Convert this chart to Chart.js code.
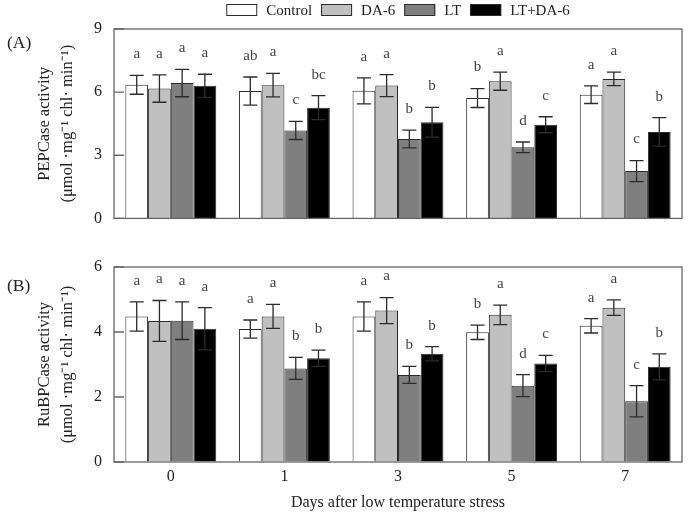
<!DOCTYPE html>
<html>
<head>
<meta charset="utf-8">
<script src="https://cdn.jsdelivr.net/npm/chart.js@4/dist/chart.umd.min.js"></script>
<style>
  html, body { margin: 0; padding: 0; background: #fff; }
  #wrap { position: relative; width: 689px; height: 512px; overflow: hidden; }
  #top { position: absolute; left: 0; top: 0; }
  #bot { position: absolute; left: 0; top: 240px; }
</style>
</head>
<body>
<div id="wrap">
  <canvas id="top" width="689" height="240"></canvas>
  <canvas id="bot" width="689" height="272"></canvas>
</div>
<script>
// ---- data ----
const categories = ['0', '1', '3', '5', '7'];
const seriesNames = ['Control', 'DA-6', 'LT', 'LT+DA-6'];

// Panel A: PEPCase activity
const pepControl    = [6.35, 6.05, 6.06, 5.72, 5.88];
const pepControlErr = [0.45, 0.67, 0.62, 0.45, 0.42];
const pepDA6        = [6.17, 6.33, 6.31, 6.52, 6.63];
const pepDA6Err     = [0.65, 0.56, 0.52, 0.43, 0.32];
const pepLT         = [6.43, 4.18, 3.77, 3.38, 2.25];
const pepLTErr      = [0.65, 0.43, 0.42, 0.25, 0.50];
const pepLTDA6      = [6.30, 5.26, 4.57, 4.45, 4.11];
const pepLTDA6Err   = [0.55, 0.57, 0.71, 0.38, 0.68];
const pepLettersControl = ['a', 'ab', 'a', 'b', 'a'];
const pepLettersDA6     = ['a', 'a', 'a', 'a', 'a'];
const pepLettersLT      = ['a', 'c', 'b', 'd', 'c'];
const pepLettersLTDA6   = ['a', 'bc', 'b', 'c', 'b'];
const pepTicks = [0, 3, 6, 9];

// Panel B: RuBPCase activity
const rubControl    = [4.48, 4.09, 4.48, 3.99, 4.19];
const rubControlErr = [0.45, 0.28, 0.45, 0.22, 0.22];
const rubDA6        = [4.34, 4.48, 4.66, 4.53, 4.75];
const rubDA6Err     = [0.63, 0.37, 0.40, 0.30, 0.24];
const rubLT         = [4.35, 2.88, 2.68, 2.35, 1.87];
const rubLTErr      = [0.58, 0.34, 0.26, 0.34, 0.48];
const rubLTDA6      = [4.10, 3.19, 3.33, 3.03, 2.93];
const rubLTDA6Err   = [0.65, 0.25, 0.22, 0.25, 0.40];
const rubLettersControl = ['a', 'a', 'a', 'b', 'a'];
const rubLettersDA6     = ['a', 'a', 'a', 'a', 'a'];
const rubLettersLT      = ['a', 'b', 'b', 'd', 'c'];
const rubLettersLTDA6   = ['a', 'b', 'b', 'c', 'b'];
const rubTicks = [0, 2, 4, 6];

// ---- styling ----
const FONT = "'Liberation Serif', 'Times New Roman', serif";
const fills = ['#ffffff', '#c0c0c0', '#7f7f7f', '#000000'];
const EDGE = '#2b2b2b';
const FRAME = '#666666';
const TEXT = '#222222';

function makeDatasets(vals, errs, letters) {
  return vals.map((v, i) => ({
    label: seriesNames[i],
    data: v,
    errors: errs[i],
    letters: letters[i],
    backgroundColor: fills[i],
    borderColor: EDGE,
    borderWidth: 1,
    categoryPercentage: 0.8,
    barPercentage: 1.0
  }));
}

const panelPlugin = {
  id: 'panel',
  afterDatasetsDraw(chart, args, opts) {
    const ctx = chart.ctx;
    const y = chart.scales.y;
    const a = chart.chartArea;
    ctx.save();
    // error bars and letters
    chart.data.datasets.forEach((ds, di) => {
      const meta = chart.getDatasetMeta(di);
      meta.data.forEach((el, j) => {
        const v = ds.data[j], e = ds.errors[j];
        const yt = y.getPixelForValue(v + e);
        const yb = y.getPixelForValue(v - e);
        ctx.strokeStyle = '#2b2b2b';
        ctx.lineWidth = 1.3;
        ctx.beginPath();
        ctx.moveTo(el.x, yt); ctx.lineTo(el.x, yb);
        ctx.moveTo(el.x - 7, yt); ctx.lineTo(el.x + 7, yt);
        ctx.moveTo(el.x - 7, yb); ctx.lineTo(el.x + 7, yb);
        ctx.stroke();
        ctx.fillStyle = '#444';
        ctx.font = '15px ' + FONT;
        ctx.textAlign = 'center';
        ctx.textBaseline = 'middle';
        ctx.fillText(ds.letters[j], el.x, yt - 21);
      });
    });
    // frame
    ctx.strokeStyle = FRAME;
    ctx.lineWidth = 1.3;
    ctx.strokeRect(a.left, a.top, a.right - a.left, a.bottom - a.top);
    // inward ticks on the left axis
    ctx.beginPath();
    y.ticks.forEach(t => {
      const py = y.getPixelForValue(t.value);
      ctx.moveTo(a.left, py); ctx.lineTo(a.left + 10, py);
    });
    ctx.stroke();
    // panel label
    ctx.fillStyle = TEXT;
    ctx.font = '17.5px ' + FONT;
    ctx.textAlign = 'left';
    ctx.textBaseline = 'middle';
    ctx.fillText(opts.tag, 7, opts.tagY);
    // legend
    if (opts.legend) {
      ctx.font = '15px ' + FONT;
      const boxW = 31, boxH = 12, gap = 9, itemGap = 9;
      const items = chart.data.datasets.map(ds => ({ ds, w: ctx.measureText(ds.label).width }));
      let total = items.reduce((s, it) => s + boxW + gap + it.w, 0) + itemGap * (items.length - 1);
      let x = (a.left + a.right) / 2 - total / 2;
      const cy = 10;
      items.forEach(it => {
        ctx.fillStyle = it.ds.backgroundColor;
        ctx.fillRect(x, cy - boxH / 2, boxW, boxH);
        ctx.strokeStyle = EDGE;
        ctx.lineWidth = 1;
        ctx.strokeRect(x + 0.5, cy - boxH / 2 + 0.5, boxW - 1, boxH - 1);
        ctx.fillStyle = TEXT;
        ctx.textBaseline = 'middle';
        ctx.fillText(it.ds.label, x + boxW + gap, cy + 1);
        x += boxW + gap + it.w + itemGap;
      });
    }
    ctx.restore();
  }
};

function yScale(max, step, tickList, titleLines) {
  return {
    min: 0, max: max,
    afterBuildTicks: s => { s.ticks = tickList.map(v => ({ value: v })); },
    ticks: { stepSize: step, padding: 12, color: TEXT, font: { family: FONT, size: 16 } },
    grid: { display: true, drawOnChartArea: false, drawTicks: false },
    border: { display: false },
    title: { display: true, text: titleLines, color: TEXT,
             font: { family: FONT, size: 16.5, lineHeight: 1.4 }, padding: { top: 33, bottom: 0 } },
    afterFit: s => { s.width = 114; }
  };
}

new Chart(document.getElementById('top'), {
  type: 'bar',
  data: {
    labels: categories,
    datasets: makeDatasets([pepControl, pepDA6, pepLT, pepLTDA6],
                           [pepControlErr, pepDA6Err, pepLTErr, pepLTDA6Err],
                           [pepLettersControl, pepLettersDA6, pepLettersLT, pepLettersLTDA6])
  },
  options: {
    responsive: false, animation: false, devicePixelRatio: 1,
    layout: { padding: { top: 29, right: 7, bottom: 16, left: 0 } },
    plugins: { legend: { display: false }, tooltip: { enabled: false },
               panel: { tag: '(A)', tagY: 43, legend: true } },
    scales: {
      x: { display: false },
      y: yScale(9, 3, pepTicks, ['PEPCase activity', '(\u03bcmol \u00b7mg\u207b\u00b9 chl\u00b7 min\u207b\u00b9)'])
    }
  },
  plugins: [panelPlugin]
});

new Chart(document.getElementById('bot'), {
  type: 'bar',
  data: {
    labels: categories,
    datasets: makeDatasets([rubControl, rubDA6, rubLT, rubLTDA6],
                           [rubControlErr, rubDA6Err, rubLTErr, rubLTDA6Err],
                           [rubLettersControl, rubLettersDA6, rubLettersLT, rubLettersLTDA6])
  },
  options: {
    responsive: false, animation: false, devicePixelRatio: 1,
    layout: { padding: { top: 27, right: 7, bottom: 0, left: 0 } },
    plugins: { legend: { display: false }, tooltip: { enabled: false },
               panel: { tag: '(B)', tagY: 46, legend: false } },
    scales: {
      x: {
        grid: { display: false, drawTicks: false },
        border: { display: false },
        ticks: { padding: 5, color: TEXT, font: { family: FONT, size: 16 } },
        title: { display: true, text: 'Days after low temperature stress', color: TEXT,
                 font: { family: FONT, size: 16, lineHeight: 1.2 }, padding: { top: 0, bottom: 0 } },
        afterFit: s => { s.height = 50; }
      },
      y: yScale(6, 2, rubTicks, ['RuBPCase activity', '(\u03bcmol \u00b7mg\u207b\u00b9 chl\u00b7 min\u207b\u00b9)'])
    }
  },
  plugins: [panelPlugin]
});
</script>
</body>
</html>
